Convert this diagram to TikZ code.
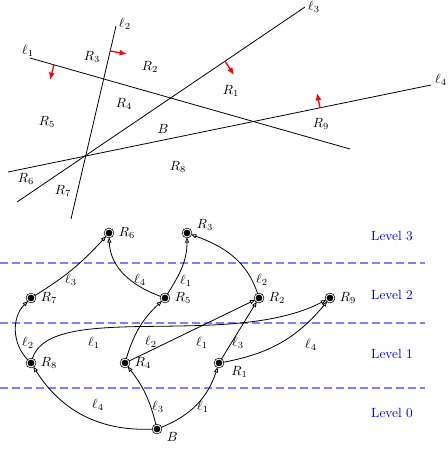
\documentclass[tikz,border=0pt]{standalone}
\usetikzlibrary{arrows.meta,calc}
\begin{document}
\begin{tikzpicture}[x=0.75pt,y=0.75pt,
  ln/.style={line width=0.6pt},
  nrm/.style={red, line width=1pt, -{Latex[length=5.5pt,width=4.5pt]}},
  vtx/.style={circle, fill=black, draw=black, line width=0.5pt, double=white, double distance=0.7pt, inner sep=0pt, minimum size=6pt},
  arr/.style={line width=0.6pt, -{Triangle[open,length=4pt,width=3pt]}},
  lvl/.style={blue!50, dash pattern=on 6pt off 3pt, line width=1.1pt},
  lvtxt/.style={text=blue},
  lbl/.style={inner sep=1pt},
  nl/.style={inner sep=1pt, label distance=3pt},
]
\useasboundingbox (0,0) rectangle (448,-470);

% ---------- top: arrangement of lines ----------
\coordinate (a1) at (30,-58);  \coordinate (b1) at (350,-149);
\coordinate (a2) at (71,-219); \coordinate (b2) at (116,-26);
\coordinate (a3) at (17,-202); \coordinate (b3) at (305,-7);
\coordinate (a4) at (8,-172);  \coordinate (b4) at (431,-85);
\draw[ln] (a1) -- (b1);
\draw[ln] (a2) -- (b2);
\draw[ln] (a3) -- (b3);
\draw[ln] (a4) -- (b4);
\node[lbl] (t1) at (28,-51) {$\ell_1$};
\node[lbl] (t2) at (125,-24) {$\ell_2$};
\node[lbl] (t3) at (314,-7) {$\ell_3$};
\node[lbl] (t4) at (441,-80) {$\ell_4$};

\coordinate (n1s) at (54,-64.8);   \coordinate (n1e) at (50,-80);
\coordinate (n2s) at (110,-51);    \coordinate (n2e) at (127,-54);
\coordinate (n3s) at (225,-61.2);  \coordinate (n3e) at (234,-75);
\coordinate (n4s) at (320,-107.8); \coordinate (n4e) at (317,-93);
\draw[nrm] (n1s) -- (n1e);
\draw[nrm] (n2s) -- (n2e);
\draw[nrm] (n3s) -- (n3e);
\draw[nrm] (n4s) -- (n4e);

\node[lbl] (r3) at (92,-57) {$R_3$};
\node[lbl] (r2) at (150,-67) {$R_2$};
\node[lbl] (r5) at (47,-122) {$R_5$};
\node[lbl] (r4) at (124,-104) {$R_4$};
\node[lbl] (r1) at (231,-91) {$R_1$};
\node[lbl] (r9) at (321,-124) {$R_9$};
\node[lbl] (rb) at (163,-129) {$B$};
\node[lbl] (r8) at (178,-167) {$R_8$};
\node[lbl] (r6) at (26,-179) {$R_6$};
\node[lbl] (r7) at (63,-191) {$R_7$};

% ---------- bottom: level graph ----------
\coordinate (d3a) at (0,-263); \coordinate (d3b) at (425,-263);
\coordinate (d2a) at (0,-323); \coordinate (d2b) at (425,-323);
\coordinate (d1a) at (0,-388); \coordinate (d1b) at (425,-388);
\draw[lvl] (d3a) -- (d3b);
\draw[lvl] (d2a) -- (d2b);
\draw[lvl] (d1a) -- (d1b);
\node[lvtxt] (L3) at (392,-236) {Level 3};
\node[lvtxt] (L2) at (392,-295) {Level 2};
\node[lvtxt] (L1) at (392,-354) {Level 1};
\node[lvtxt] (L0) at (392,-413) {Level 0};

\node[vtx, label={[nl]5:$R_3$}] (R3) at (187,-233) {};
\node[vtx, label={[nl]0:$R_6$}] (R6) at (109,-233) {};
\node[vtx, label={[nl]0:$R_7$}] (R7) at (31,-298) {};
\node[vtx, label={[nl]0:$R_5$}] (R5) at (165,-298) {};
\node[vtx, label={[nl]0:$R_2$}] (R2) at (259,-298) {};
\node[vtx, label={[nl]0:$R_9$}] (R9) at (330,-298) {};
\node[vtx, label={[nl]0:$R_8$}] (R8) at (31,-363) {};
\node[vtx, label={[nl]0:$R_4$}] (R4) at (125,-363) {};
\node[vtx, label={[nl,label distance=5pt]-8:$R_1$}] (R1) at (219,-363) {};
\node[vtx, label={[nl]-12:$B$}] (B) at (157,-429) {};

\draw[arr] (B) to[bend left=30] (R8);
\draw[arr] (B) to[bend right=12] (R4);
\draw[arr] (B) to[bend right=25] (R1);
\draw[arr] (R8) to[bend left=45] (R7);
\draw[arr] (R8) .. controls (50,-300) and (230,-350) .. (R9);
\draw[arr] (R4) to[bend left=15] (R5);
\draw[arr] (R4) -- (R2);
\draw[arr] (R1) -- (R2);
\draw[arr] (R1) to[bend right=20] (R9);
\draw[arr] (R7) to[bend right=8] (R6);
\draw[arr] (R5) to[out=160,in=-88] (R6);
\draw[arr] (R5) to[out=58,in=-90] (R3);
\draw[arr] (R2) to[out=108,in=-20] (R3);

\node[lbl] (e1) at (98,-405) {$\ell_4$};
\node[lbl] (e2) at (158,-407) {$\ell_3$};
\node[lbl] (e3) at (203,-407) {$\ell_1$};
\node[lbl] (e4) at (28,-343) {$\ell_2$};
\node[lbl] (e5) at (94,-343) {$\ell_1$};
\node[lbl] (e6) at (151,-342) {$\ell_2$};
\node[lbl] (e7) at (202,-343) {$\ell_1$};
\node[lbl] (e8) at (238,-343) {$\ell_3$};
\node[lbl] (e9) at (311,-345) {$\ell_4$};
\node[lbl] (e10) at (71,-280) {$\ell_3$};
\node[lbl] (e11) at (140,-280) {$\ell_4$};
\node[lbl] (e12) at (186,-281) {$\ell_1$};
\node[lbl] (e13) at (262,-280) {$\ell_2$};
\end{tikzpicture}
\end{document}
